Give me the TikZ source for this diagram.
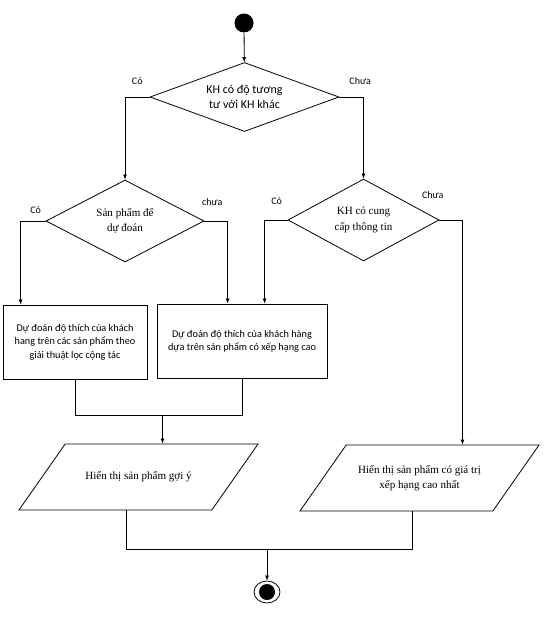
\documentclass[tikz,border=0pt]{standalone}
\usepackage{fontspec}
\setmainfont{Liberation Serif}
\newfontfamily\calibri{Carlito}
\usepackage{tikz}
\usetikzlibrary{shapes.geometric, arrows.meta, positioning, calc}
\newcommand{\iotext}[1]{\parbox[c][49.5pt][c]{110pt}{\centering #1}}
\tikzstyle{startdot} = [circle, fill=black, minimum size=14.25pt, inner sep=0pt]
\tikzstyle{finish} = [ellipse, draw=black, minimum width=19.5pt, minimum height=16.5pt, inner sep=0pt]
\tikzstyle{decision} = [diamond, draw=black, inner sep=0pt, text centered, align=center]
\tikzstyle{process} = [rectangle, draw=black, inner sep=0pt, text centered, align=center, font=\calibri\fontsize{7.7}{10}\selectfont]
\tikzstyle{io} = [trapezium, trapezium left angle=55, trapezium right angle=125, draw=black, inner sep=0pt, font=\fontsize{8.3}{11.5}\selectfont]
\tikzstyle{branch} = [font=\calibri\fontsize{7.5}{9}\selectfont, inner sep=1pt]
\tikzstyle{arrow} = [-{Latex[length=3.8pt,width=3pt]}]

\begin{document}
\begin{tikzpicture}[x=0.75pt, y=-0.75pt, line width=0.6pt]
\useasboundingbox (0,0) rectangle (544,617);

\node (start) [startdot] at (244,23) {};
\node (d1) [decision, aspect=2.74, minimum width=141.75pt, minimum height=51.75pt, font=\calibri\fontsize{9}{11.5}\selectfont] at (244.5,97) {KH có độ tương\\tư với  KH khác};
\node (d2) [decision, aspect=1.93, minimum width=118.5pt, minimum height=61.5pt, font=\fontsize{8.3}{11.5}\selectfont] at (125,221) {Sản phẩm để\\dự đoán};
\node (d3) [decision, aspect=1.84, minimum width=113.25pt, minimum height=61.5pt, font=\fontsize{8.3}{11.5}\selectfont] at (363.5,220) {KH có cung\\cấp thông tin};
\node (box1) [process, minimum width=108pt, minimum height=55.5pt] at (75,342) {Dự đoán độ thích của khách\\hang trên các sản phẩm theo\\giải thuật lọc cộng tác};
\node (box2) [process, minimum width=127.5pt, minimum height=55.5pt] at (242,341) {Dự đoán độ thích của khách hàng\\dựa trên sản phẩm có xếp hạng cao};
\node (p1) [io] at (138.5,477) {\iotext{Hiển thị sản phẩm gợi ý}};
\node (p2) [io] at (419.5,478) {\iotext{Hiển thị sản phẩm có giá trị\\xếp hạng cao nhất}};
\node (stop) [finish] at (267,592) {};
\node (stopdot) [startdot, minimum size=12pt] at (stop) {};

\coordinate (join1) at ($(p1.north)+(24,-28)$);
\coordinate (join2) at ($(stop.north)+(0,-31)$);

\draw [arrow] (start) -- (d1);
\draw [arrow] (d1.west) -| node[branch, pos=.25, above=8pt]{Có} (d2.north);
\draw [arrow] (d1.east) -| node[branch, pos=.43, above=8pt]{Chưa} (d3.north);
\draw [arrow] (d2.west) -| node[branch, pos=.2, above=4.5pt]{Có} ($(box1.north west)+(18,0)$);
\draw [arrow] (d2.east) -| node[branch, pos=.17, above=10.5pt]{chưa} ($(box2.north west)+(71,0)$);
\draw [arrow] (d3.west) -| node[branch, pos=.24, above=10.5pt]{Có} ($(box2.north west)+(108,0)$);
\draw [arrow] (d3.east) -| node[branch, pos=0, above=15pt, xshift=-5pt]{Chưa} ($(p2.north)+(43,0)$);
\draw (box1.south) |- (join1) -| (box2.south);
\draw [arrow] (join1) -- ($(p1.north)+(24,0)$);
\draw ($(p1.south)+(-12,0)$) |- (join2) -| ($(p2.south)+(-7,0)$);
\draw [arrow] (join2) -- (stop);
\end{tikzpicture}
\end{document}
